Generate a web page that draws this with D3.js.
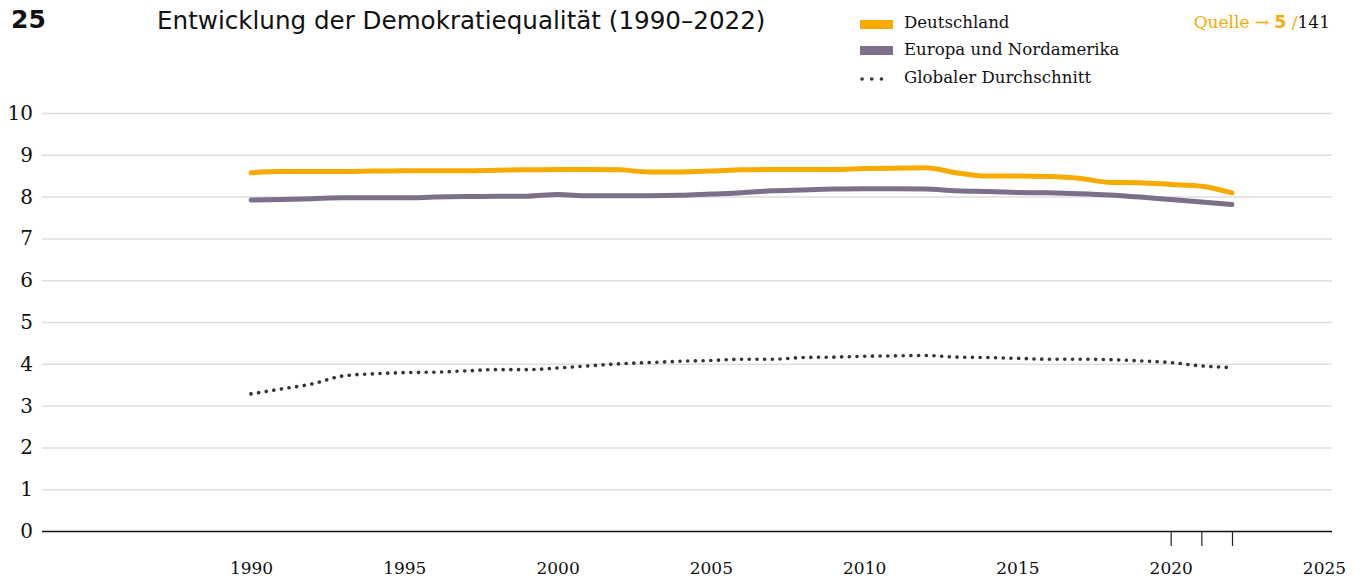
<!DOCTYPE html>
<html>
<head>
<meta charset="utf-8">
<script src="https://cdn.jsdelivr.net/npm/d3@7"></script>
<style>
  body { margin: 0; background: #fff; }
  svg { display: block; }
</style>
</head>
<body>
<svg id="chart"></svg>
<script>
// values (index of democracy quality, 0-10)
const years = d3.range(1990, 2023);
const deutschland = [8.57, 8.60, 8.60, 8.60, 8.61, 8.62, 8.62, 8.62, 8.63, 8.64,
    8.65, 8.65, 8.64, 8.59, 8.59, 8.61, 8.64, 8.65, 8.65, 8.65,
    8.67, 8.68, 8.69, 8.57, 8.49, 8.49, 8.48, 8.44, 8.34, 8.33,
    8.29, 8.25, 8.09];
const europaNordamerika = [7.92, 7.93, 7.95, 7.97, 7.97, 7.97, 7.99, 8.00, 8.01, 8.01,
    8.05, 8.02, 8.02, 8.02, 8.03, 8.06, 8.09, 8.14, 8.16, 8.18,
    8.19, 8.19, 8.18, 8.14, 8.12, 8.10, 8.09, 8.07, 8.04, 7.99,
    7.93, 7.87, 7.81];
const globalerSchnitt = [3.28, 3.40, 3.52, 3.71, 3.76, 3.79, 3.80, 3.83, 3.86, 3.86,
    3.90, 3.95, 4.00, 4.03, 4.06, 4.08, 4.11, 4.11, 4.15, 4.16,
    4.18, 4.19, 4.20, 4.16, 4.15, 4.13, 4.11, 4.11, 4.10, 4.07,
    4.03, 3.95, 3.91];
const yTicks = d3.range(0, 11);
const xLabelYears = d3.range(1990, 2026, 5);
const xMarkYears = [2020, 2021, 2022];

const W = 1366, H = 577;
const orange = "#f7aa00", purple = "#7d6e8a", dark = "#3b3239";
const serif = "'DejaVu Serif', serif";

const svg = d3.select("#chart").attr("width", W).attr("height", H);

const x = d3.scaleLinear().domain([1990, 2022]).range([251, 1232]);
const y = d3.scaleLinear().domain([0, 10]).range([531, 113]);
const gridLeft = 42, gridRight = 1332;

// horizontal grid + y labels
const yAxis = svg.append("g")
    .attr("transform", "translate(" + gridLeft + ",0)")
    .call(d3.axisLeft(y).tickValues(yTicks).tickSize(-(gridRight - gridLeft)).tickPadding(9));
yAxis.select(".domain").remove();
yAxis.selectAll(".tick line")
    .attr("stroke", d => d === 0 ? "#111" : "#dedede")
    .attr("stroke-width", 1.5);
yAxis.selectAll(".tick text")
    .attr("font-family", serif).attr("font-size", 20).attr("fill", "#111");

// small tick marks on the baseline
const xMarks = svg.append("g")
    .attr("transform", "translate(0," + y(0) + ")")
    .call(d3.axisBottom(x).tickValues(xMarkYears).tickSize(15).tickFormat(""));
xMarks.select(".domain").remove();
xMarks.selectAll(".tick line").attr("stroke", "#222").attr("stroke-width", 1.2);

// year labels
const xAxis = svg.append("g")
    .attr("transform", "translate(0," + y(0) + ")")
    .call(d3.axisBottom(x).tickValues(xLabelYears).tickSize(0).tickPadding(31).tickFormat(d3.format("d")));
xAxis.select(".domain").remove();
xAxis.selectAll(".tick text")
    .attr("font-family", serif).attr("font-size", 17).attr("fill", "#111");

// lines
const line = vals => d3.line()
    .x((d, i) => x(years[i]))
    .y(d => y(d))
    .curve(d3.curveMonotoneX)(vals);

svg.append("path")
    .attr("d", line(globalerSchnitt))
    .attr("fill", "none")
    .attr("stroke", dark)
    .attr("stroke-width", 3.6)
    .attr("stroke-linecap", "round")
    .attr("stroke-dasharray", "0.1 7.6");

svg.append("path")
    .attr("d", line(europaNordamerika))
    .attr("fill", "none")
    .attr("stroke", purple)
    .attr("stroke-width", 5)
    .attr("stroke-linecap", "round");

svg.append("path")
    .attr("d", line(deutschland))
    .attr("fill", "none")
    .attr("stroke", orange)
    .attr("stroke-width", 5)
    .attr("stroke-linecap", "round");

// header
svg.append("text")
    .attr("x", 11).attr("y", 28)
    .attr("font-family", "'DejaVu Sans', sans-serif")
    .attr("font-weight", 900)
    .attr("font-size", 25)
    .attr("fill", "#111")
    .text("25");

svg.append("text")
    .attr("x", 157).attr("y", 29)
    .attr("font-family", "'DejaVu Sans', sans-serif")
    .attr("font-size", 24.6)
    .attr("fill", "#111")
    .text("Entwicklung der Demokratiequalität (1990–2022)");

// legend
const legend = svg.append("g").attr("transform", "translate(860,0)");
legend.append("rect").attr("x", 0).attr("y", 20).attr("width", 33).attr("height", 9).attr("fill", orange);
legend.append("rect").attr("x", 0).attr("y", 46).attr("width", 33).attr("height", 9).attr("fill", purple);
legend.append("line")
    .attr("x1", 2).attr("x2", 31).attr("y1", 79).attr("y2", 79)
    .attr("stroke", dark).attr("stroke-width", 3.6)
    .attr("stroke-linecap", "round").attr("stroke-dasharray", "0.1 9.6");
[["Deutschland", 28], ["Europa und Nordamerika", 55], ["Globaler Durchschnitt", 83]].forEach(([t, yy]) => {
    legend.append("text")
        .attr("x", 44).attr("y", yy)
        .attr("font-family", serif).attr("font-size", 16.6).attr("fill", "#111")
        .text(t);
});

// source reference
const src = svg.append("text")
    .attr("x", 1330).attr("y", 28)
    .attr("text-anchor", "end")
    .attr("font-family", serif).attr("font-size", 17);
src.append("tspan").attr("fill", orange).text("Quelle → ");
src.append("tspan").attr("fill", orange).attr("font-family", "'DejaVu Sans', sans-serif")
    .attr("font-weight", "bold").text("5");
src.append("tspan").attr("fill", orange).text(" /");
src.append("tspan").attr("fill", "#111").text("141");
</script>
</body>
</html>
